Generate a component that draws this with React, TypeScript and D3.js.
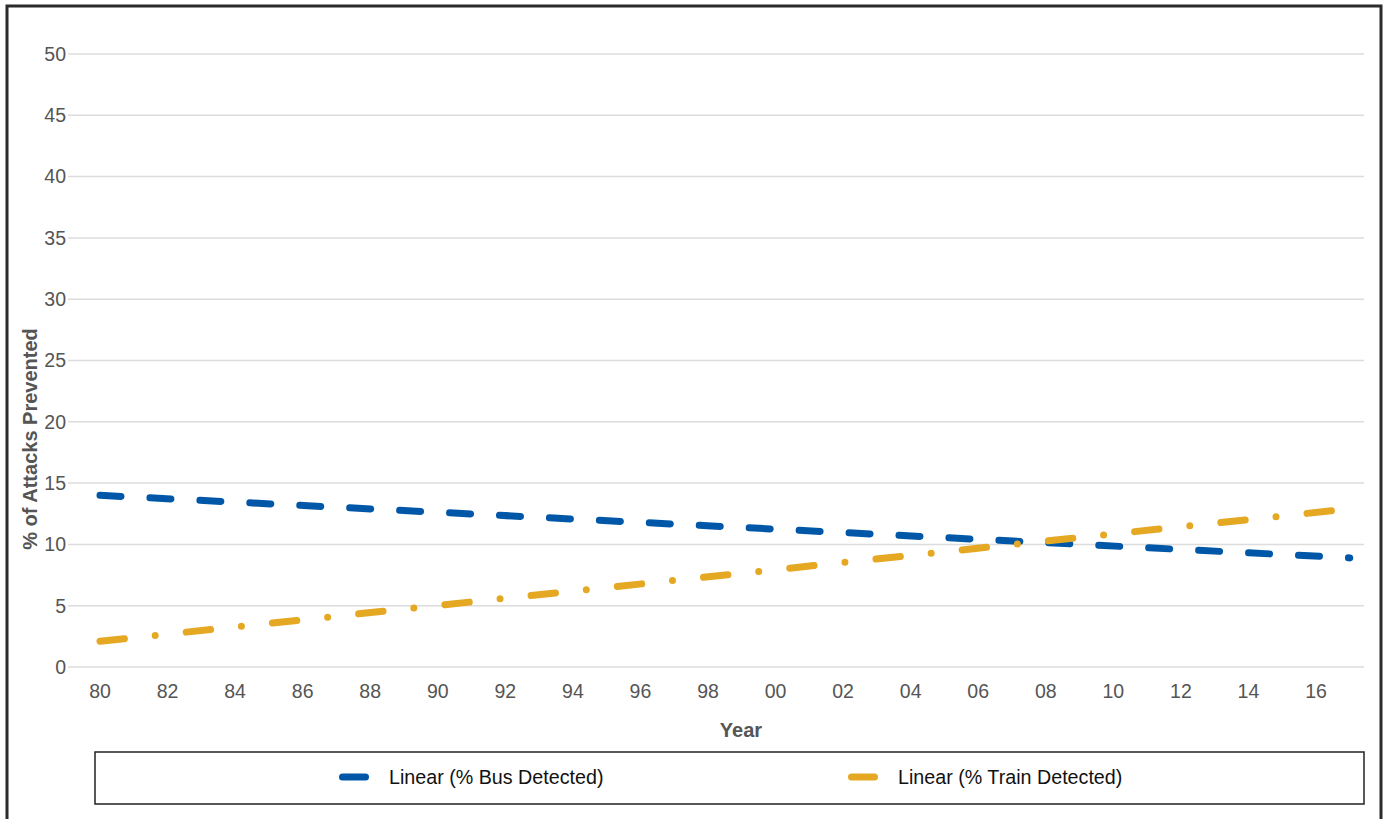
import React from "react";
import * as d3 from "d3";

const busYears = [1980, 2017];
const busValues = [14.0, 8.9];
const trainYears = [1980, 2017];
const trainValues = [2.1, 12.9];
const yTicks = [0, 5, 10, 15, 20, 25, 30, 35, 40, 45, 50];
const xTickYears = d3.range(1980, 2017, 2);
const seriesNames = ["Linear (% Bus Detected)", "Linear (% Train Detected)"];
const seriesColors = ["#0057a8", "#e5a823"];

const W = 1385;
const H = 819;

export default function App() {
  const x = d3.scaleLinear().domain([1980, 2016]).range([100, 1316]);
  const y = d3.scaleLinear().domain([0, 50]).range([667, 54]);
  const line = d3
    .line<[number, number]>()
    .x((d) => x(d[0]))
    .y((d) => y(d[1]));
  const busPts = busYears.map((yr, i) => [yr, busValues[i]] as [number, number]);
  const trainPts = trainYears.map((yr, i) => [yr, trainValues[i]] as [number, number]);
  const font = "'Liberation Sans', Arial, sans-serif";
  const dashes = ["21 29", "24.5 31 0 31.2"];
  const legendX = [342.5, 851.5];
  const legendTextX = [389, 898];

  return (
    <svg
      width={W}
      height={H}
      style={{ position: "absolute", left: 0, top: 0, background: "#fff" }}
      fontFamily={font}
    >
      <rect x={7} y={6} width={1374} height={830} fill="#fff" stroke="#2b2b2b" strokeWidth={3} />
      {yTicks.map((t) => (
        <g key={t}>
          <line x1={68} x2={1364} y1={y(t)} y2={y(t)} stroke="#dcdcdc" strokeWidth={1.5} />
          <text x={66} y={y(t)} dy="0.35em" textAnchor="end" fontSize={19.5} fill="#555">
            {t}
          </text>
        </g>
      ))}
      {xTickYears.map((yr) => (
        <text key={yr} x={x(yr)} y={691} dy="0.35em" textAnchor="middle" fontSize={19.5} fill="#555">
          {String(yr % 100).padStart(2, "0")}
        </text>
      ))}
      <text x={741} y={730} dy="0.35em" textAnchor="middle" fontSize={20} fontWeight="bold" fill="#555">
        Year
      </text>
      <text
        transform="translate(30,439) rotate(-90)"
        dy="0.35em"
        textAnchor="middle"
        fontSize={20}
        fontWeight="bold"
        fill="#555"
      >
        % of Attacks Prevented
      </text>
      <path
        d={line(busPts) || ""}
        fill="none"
        stroke={seriesColors[0]}
        strokeWidth={7}
        strokeLinecap="round"
        strokeDasharray={dashes[0]}
      />
      <path
        d={line(trainPts) || ""}
        fill="none"
        stroke={seriesColors[1]}
        strokeWidth={7}
        strokeLinecap="round"
        strokeDasharray={dashes[1]}
      />
      <rect x={95} y={752} width={1269} height={52} fill="none" stroke="#222" strokeWidth={1.5} />
      {seriesNames.map((name, i) => (
        <g key={name}>
          <line
            x1={legendX[i]}
            x2={legendX[i] + 23}
            y1={777}
            y2={777}
            stroke={seriesColors[i]}
            strokeWidth={7}
            strokeLinecap="round"
          />
          <text x={legendTextX[i]} y={777} dy="0.35em" fontSize={19.7} fill="#111">
            {name}
          </text>
        </g>
      ))}
    </svg>
  );
}
